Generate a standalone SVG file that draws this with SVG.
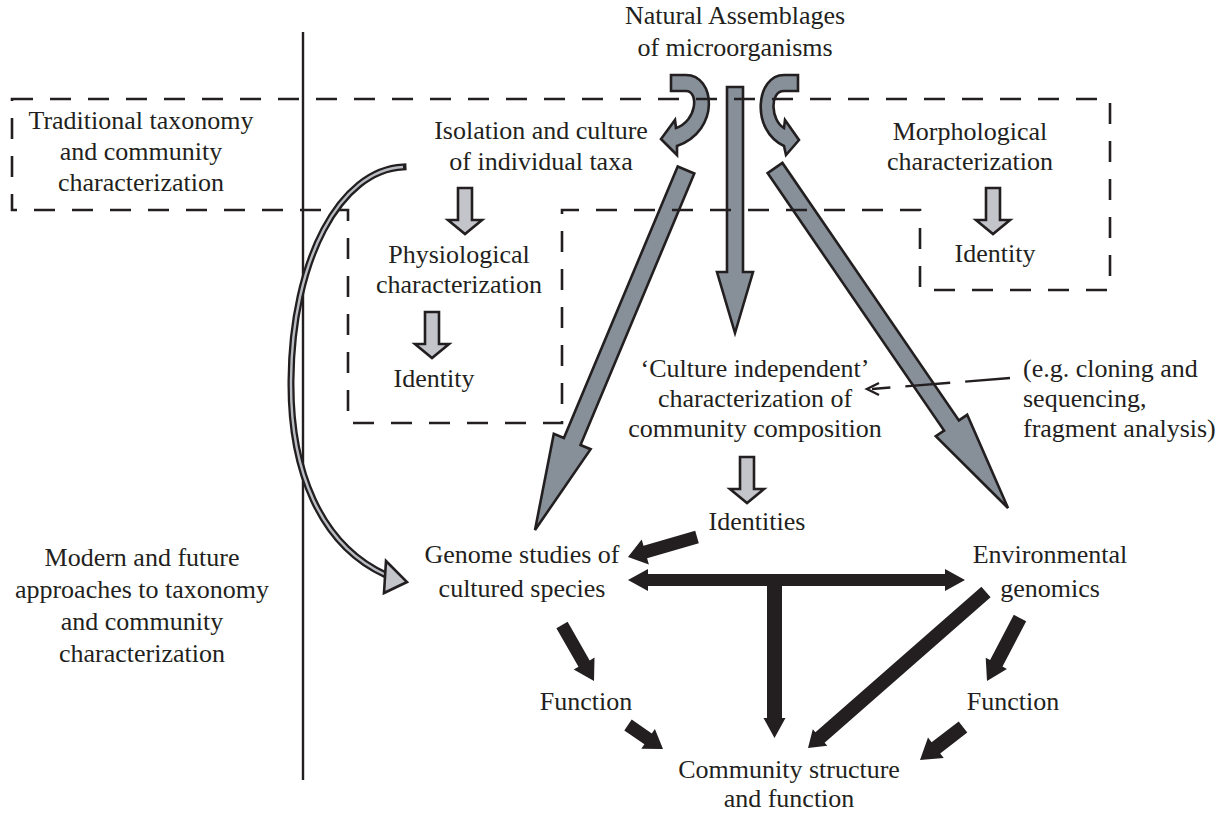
<svg xmlns="http://www.w3.org/2000/svg" width="1222" height="813" viewBox="0 0 1222 813">
<defs>
<style>
text{font-family:"Liberation Serif","Times New Roman",serif;font-size:26px;fill:#231f20;text-anchor:middle}
.l{text-anchor:start}
.dash{fill:none;stroke:#231f20;stroke-width:2.6;stroke-dasharray:21 17}
.big{fill:#879099;stroke:#231f20;stroke-width:2.6;stroke-linejoin:miter}
.small{fill:#c3c5cb;stroke:#231f20;stroke-width:2.6}
.blk{fill:#231f20;stroke:none}
</style>
<path id="down" d="M-7,0 H7 V32 H17 L0,46 L-17,32 H-7 Z"/>
</defs>
<rect width="1222" height="813" fill="#fff"/>

<g id="connectors">
<line x1="303" y1="32" x2="303" y2="780" stroke="#231f20" stroke-width="2.4"/>
<!-- big gray arrows -->
<path class="big" d="M671,75 H686 C715,75 721,130 677,146 L677,155 L661,139 L675,120 L676,128 C697,121 699,91 686,91 H671 Z"/>
<path class="big" d="M798,75 H784 C756,75 750,130 784,146 L786,155 L799,140 L785,120 L784,128 C771,121 769,91 784,91 H798 Z"/>
<path class="big" d="M727,87 H743 V272 H753 L735,333 L717,272 H727 Z"/>
<path class="big" d="M677.7,166.5 L563.9,438 L553.8,433.8 L535,530 L590.6,449.2 L580.5,445 L694.3,173.5 Z"/>
<path class="big" d="M767.6,173.1 L944.1,430.6 L935.8,436.2 L1008,508 L967.2,414.8 L958.9,420.4 L782.4,162.9 Z"/>
<!-- small light arrows -->
<use href="#down" class="small" x="465" y="188"/>
<use href="#down" class="small" x="432" y="312"/>
<use href="#down" class="small" x="993" y="188"/>
<use href="#down" class="small" x="747" y="457"/>
<!-- dashed boxes -->
<path class="dash" d="M12,99 H1110 V290 H920 V210 H562 V423 H348 V210 H12 Z"/>
<!-- dashed pointer -->
<path d="M1010,378 L872,389" fill="none" stroke="#231f20" stroke-width="2.4" stroke-dasharray="45 15"/>
<path d="M879,383 L867,389 L879,395" fill="none" stroke="#231f20" stroke-width="2.4"/>
<!-- curved double-line arrow -->
<path d="M403,167 C340,170 292,260 291,380 C290,470 320,545 386,575" fill="none" stroke="#231f20" stroke-width="7" stroke-linecap="square"/>
<path d="M403,167 C340,170 292,260 291,380 C290,470 320,545 386,575" fill="none" stroke="#b9bcc2" stroke-width="2.4"/>
<path class="small" d="M386,561 L407,582 L384,593 Z"/>
<!-- black arrows -->
<path class="blk" d="M695.2,530.8 L643.5,545.8 L641.7,539.5 L628,557 L648.9,564.5 L647.1,558.3 L698.8,543.3 Z"/>
<path class="blk" d="M628,580 L648,569 V574 H945 V569 L965,580 L945,591 V586 H648 V591 Z"/>
<path class="blk" d="M767,580 V718 H763.5 L774.5,738 L785.5,718 H782 V580 Z"/>
<path class="blk" d="M981.4,586.7 L815.4,732.2 L812.8,729.2 L808,748 L827.3,745.8 L824.6,742.8 L990.6,597.3 Z"/>
<path class="blk" d="M556.4,628.2 L578.5,666.8 L573.7,669.6 L594,681 L594.5,657.6 L589.7,660.4 L567.6,621.8 Z"/>
<path class="blk" d="M624.3,730.4 L644.4,744.2 L641.3,748.7 L663,749 L654.9,728.9 L651.8,733.4 L631.7,719.6 Z"/>
<path class="blk" d="M1013.8,614.8 L990.1,660.1 L985.7,657.7 L987,681 L1006.9,668.9 L1002.5,666.6 L1026.2,621.3 Z"/>
<path class="blk" d="M958.7,721.5 L931.6,742.3 L928,737.5 L920,760 L943.8,758.1 L940.2,753.4 L967.3,732.6 Z"/>
</g>

<g id="natural"><text x="735" y="24">Natural Assemblages</text><text x="735" y="56">of microorganisms</text></g>
<g id="traditional"><text x="141" y="129">Traditional taxonomy</text><text x="141" y="160">and community</text><text x="141" y="191">characterization</text></g>
<g id="isolation"><text x="541" y="139">Isolation and culture</text><text x="541" y="170">of individual taxa</text></g>
<g id="morphological"><text x="970" y="140">Morphological</text><text x="970" y="170">characterization</text></g>
<g id="identity-morph"><text x="995" y="262">Identity</text></g>
<g id="physiological"><text x="459" y="263">Physiological</text><text x="459" y="293">characterization</text></g>
<g id="identity-phys"><text x="434" y="387">Identity</text></g>
<g id="culture-independent"><text x="755" y="377">‘Culture independent’</text><text x="755" y="407">characterization of</text><text x="755" y="437">community composition</text></g>
<g id="eg"><text class="l" x="1023" y="377">(e.g. cloning and</text><text class="l" x="1023" y="407">sequencing,</text><text class="l" x="1023" y="437">fragment analysis)</text></g>
<g id="identities"><text x="757" y="530">Identities</text></g>
<g id="modern"><text x="142" y="566">Modern and future</text><text x="142" y="598">approaches to taxonomy</text><text x="142" y="630">and community</text><text x="142" y="662">characterization</text></g>
<g id="genome"><text x="522" y="563">Genome studies of</text><text x="522" y="597">cultured species</text></g>
<g id="environmental"><text x="1050" y="563">Environmental</text><text x="1050" y="597">genomics</text></g>
<g id="function-left"><text x="586" y="710">Function</text></g>
<g id="function-right"><text x="1013" y="710">Function</text></g>
<g id="community"><text x="789" y="778">Community structure</text><text x="789" y="807">and function</text></g>
</svg>
